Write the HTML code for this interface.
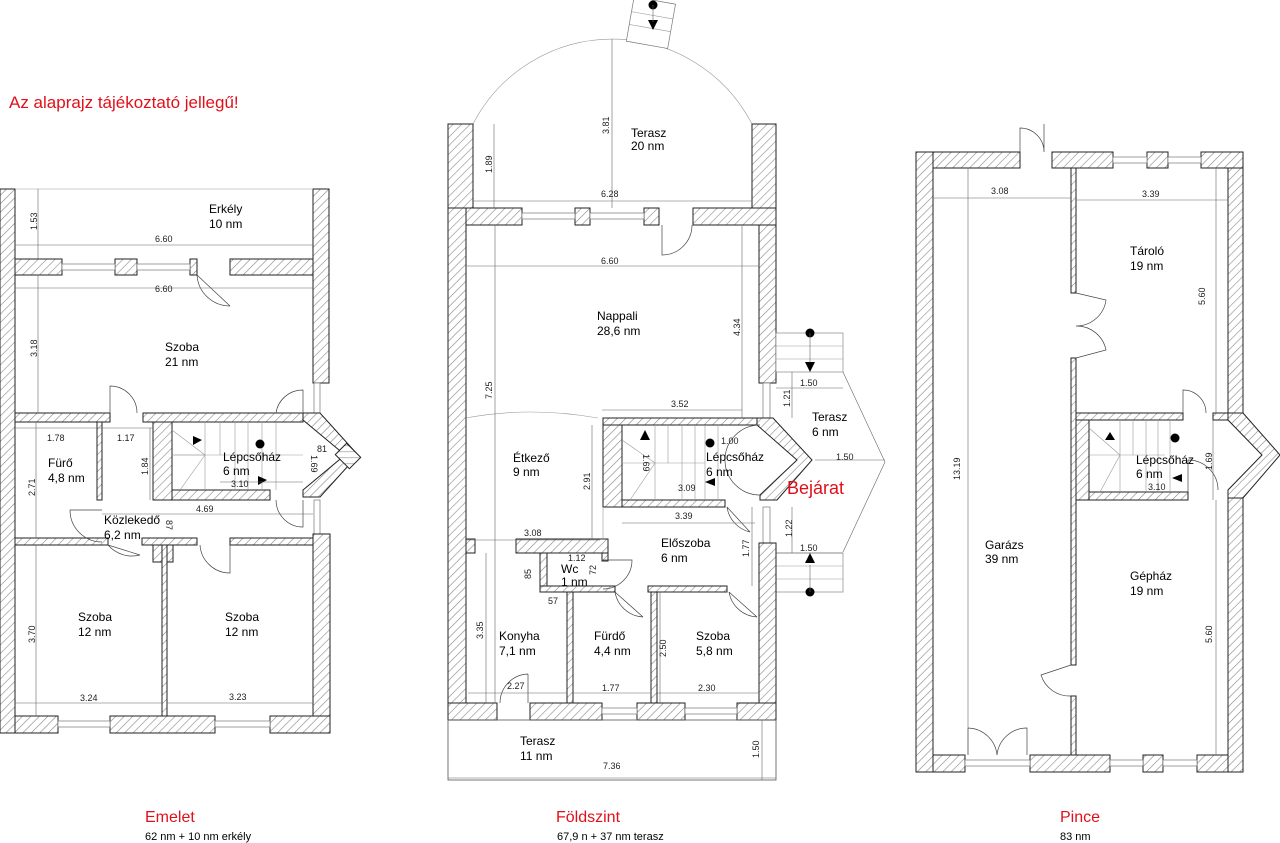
<!DOCTYPE html>
<html><head><meta charset="utf-8"><style>
html,body{margin:0;padding:0;background:#fff;}
svg{display:block;font-family:"Liberation Sans",Arial,sans-serif;}
.w{fill:url(#h);stroke:#222;stroke-width:1;}
.t{font-size:12px;fill:#000;}
.d{font-size:9px;fill:#222;}
.l{stroke:#666;stroke-width:0.6;fill:none;}
.g{stroke:#999;stroke-width:0.6;fill:none;}
.dr{stroke:#444;stroke-width:0.7;fill:none;}
.win{fill:#fff;stroke:#777;stroke-width:0.7;}
.r{fill:#e0101a;}
</style></head><body>
<svg width="1280" height="843" viewBox="0 0 1280 843" xmlns="http://www.w3.org/2000/svg">
<defs>
<pattern id="h" patternUnits="userSpaceOnUse" width="6" height="6" patternTransform="rotate(45)">
<rect width="6" height="6" fill="#fff"/><line x1="0" y1="0" x2="0" y2="6" stroke="#888" stroke-width="1.2"/>
</pattern>
</defs>

<text x="9" y="108" class="r" font-size="17">Az alaprajz tájékoztató jellegű!</text>

<!-- ============ EMELET ============ -->
<g>
<rect class="w" x="0" y="189" width="15" height="544"/>
<rect class="w" x="313" y="189" width="16" height="194"/>
<rect class="w" x="15" y="259" width="47" height="16"/>
<rect class="w" x="115" y="259" width="22" height="16"/>
<rect class="w" x="190" y="259" width="7" height="16"/>
<rect class="w" x="230" y="259" width="83" height="16"/>
<rect class="win" x="62" y="264" width="53" height="6"/>
<rect class="win" x="137" y="264" width="53" height="6"/>
<rect class="win" x="314" y="383" width="6" height="30"/>
<line class="g" x1="15" y1="189" x2="313" y2="189"/>
<!-- mid wall -->
<rect class="w" x="15" y="413" width="95" height="9"/>
<rect class="w" x="143" y="413" width="160" height="9"/>
<rect class="w" x="153" y="422" width="19" height="78"/>
<rect class="w" x="172" y="490" width="98" height="10"/>
<rect class="w" x="97" y="422" width="5" height="78"/>
<polygon class="w" points="303,413 320,413 358,455 320,497 303,497 303,490 345,455 303,420"/>
<rect class="w" x="338" y="448" width="20" height="16" transform="rotate(45 348 456)"/>
<!-- stairs -->
<g class="g"><line x1="172" y1="455" x2="303" y2="455"/>
<line x1="205" y1="422" x2="205" y2="490"/><line x1="220" y1="422" x2="220" y2="455"/><line x1="235" y1="422" x2="235" y2="490"/><line x1="248" y1="422" x2="248" y2="490"/><line x1="262" y1="422" x2="262" y2="490"/><line x1="276" y1="422" x2="276" y2="490"/>
<line x1="172" y1="430" x2="205" y2="455"/><line x1="180" y1="490" x2="205" y2="455"/><line x1="172" y1="455" x2="205" y2="455"/></g>
<circle cx="260" cy="444" r="4.5"/>
<polygon points="193,436 202,440 193,445"/>
<polygon points="258,476 267,480 258,485"/>
<rect class="win" x="314" y="500" width="6" height="34"/>
<rect class="w" x="15" y="538" width="93" height="7"/>
<rect class="w" x="142" y="538" width="55" height="7"/>
<rect class="w" x="153" y="545" width="20" height="17"/>
<rect class="w" x="230" y="538" width="83" height="7"/>
<rect class="w" x="313" y="534" width="17" height="199"/>
<rect class="w" x="162" y="545" width="5" height="171"/>
<rect class="w" x="15" y="716" width="43" height="17"/>
<rect class="w" x="110" y="716" width="105" height="17"/>
<rect class="w" x="270" y="716" width="60" height="17"/>
<rect class="win" x="58" y="721" width="52" height="6"/>
<rect class="win" x="215" y="721" width="55" height="6"/>
<!-- doors -->
<path class="dr" d="M197,275 L230,306 M197,275 A33,33 0 0 0 230,306"/>
<path class="dr" d="M110,413 L110,386 A27,27 0 0 1 137,413"/>
<path class="dr" d="M303,413 L303,390 A27,27 0 0 0 276,413"/>
<path class="dr" d="M303,500 L303,527 A27,27 0 0 1 276,500"/>
<path class="dr" d="M102,510 L70,510 A32,32 0 0 0 102,542"/>
<path class="dr" d="M108,545 L140,555 M108,545 A32,32 0 0 0 140,555"/>
<path class="dr" d="M230,545 L230,573 A30,30 0 0 1 200,545"/>
<!-- dims -->
<g class="l"><line x1="15" y1="245" x2="313" y2="245"/><line x1="15" y1="288" x2="313" y2="288"/>
<line x1="38" y1="189" x2="38" y2="259"/><line x1="38" y1="275" x2="38" y2="413"/>
<line x1="15" y1="428" x2="153" y2="428"/><line x1="36" y1="422" x2="36" y2="538"/>
<line x1="150" y1="428" x2="150" y2="500"/><line x1="102" y1="514" x2="313" y2="514"/>
<line x1="36" y1="545" x2="36" y2="716"/><line x1="15" y1="703" x2="162" y2="703"/><line x1="167" y1="703" x2="313" y2="703"/>
<line x1="220" y1="482" x2="303" y2="482"/></g>
</g>
<text class="t" x="209" y="213">Erkély</text><text class="t" x="209" y="228">10 nm</text>
<text class="t" x="165" y="351">Szoba</text><text class="t" x="165" y="366">21 nm</text>
<text class="t" x="48" y="467">Fürő</text><text class="t" x="48" y="482">4,8 nm</text>
<text class="t" x="223" y="461">Lépcsőház</text><text class="t" x="223" y="475">6 nm</text>
<text class="t" x="104" y="524">Közlekedő</text><text class="t" x="104" y="539">6,2 nm</text>
<text class="t" x="78" y="621">Szoba</text><text class="t" x="78" y="636">12 nm</text>
<text class="t" x="225" y="621">Szoba</text><text class="t" x="225" y="636">12 nm</text>
<g class="d">
<text transform="translate(37,230) rotate(-90)">1.53</text>
<text x="155" y="242">6.60</text><text x="155" y="292">6.60</text>
<text transform="translate(37,357) rotate(-90)">3.18</text>
<text x="47" y="441">1.78</text><text x="117" y="441">1.17</text>
<text transform="translate(148,475) rotate(-90)">1.84</text>
<text transform="translate(35,496) rotate(-90)">2.71</text>
<text x="231" y="487">3.10</text>
<text transform="translate(311,455) rotate(90)">1.69</text><text x="317" y="452">81</text>
<text transform="translate(166,520) rotate(90)">87</text>
<text x="196" y="512">4.69</text>
<text transform="translate(35,643) rotate(-90)">3.70</text>
<text x="80" y="701">3.24</text><text x="229" y="700">3.23</text>
</g>
<text x="145" y="822" class="r" font-size="16">Emelet</text>
<text x="145" y="840" font-size="11">62 nm + 10 nm erkély</text>

<!-- ============ FÖLDSZINT ============ -->
<g>
<path class="g" d="M473,124 A157,157 0 0 1 752,124" stroke="#777"/>
<g transform="rotate(10 650 22)"><rect x="630" y="0" width="42" height="45" fill="#fff" stroke="#777" stroke-width="0.7"/>
<line class="g" x1="630" y1="15" x2="672" y2="15"/><line class="g" x1="630" y1="28" x2="672" y2="28"/></g>
<circle cx="653" cy="5" r="4.5"/><polygon points="648,20 658,20 653,30"/><line class="l" x1="653" y1="5" x2="653" y2="22"/>
<rect class="w" x="448" y="124" width="25" height="84"/>
<rect class="w" x="752" y="124" width="24" height="84"/>
<rect class="w" x="448" y="208" width="18" height="512"/>
<rect class="w" x="466" y="208" width="56" height="17"/>
<rect class="w" x="575" y="208" width="15" height="17"/>
<rect class="w" x="644" y="208" width="15" height="17"/>
<rect class="w" x="693" y="208" width="83" height="17"/>
<rect class="win" x="522" y="213" width="53" height="6"/>
<rect class="win" x="590" y="213" width="54" height="6"/>
<path class="dr" d="M662,225 L662,255 A30,30 0 0 0 692,225"/>
<rect class="w" x="759" y="225" width="17" height="158"/>
<rect class="win" x="763" y="383" width="7" height="35"/>
<!-- right steps top -->
<rect x="776" y="333" width="67" height="39" fill="#fff" stroke="#888" stroke-width="0.7"/>
<line class="g" x1="776" y1="346" x2="843" y2="346"/><line class="g" x1="776" y1="359" x2="843" y2="359"/>
<circle cx="810" cy="333" r="4.5"/><line class="l" x1="810" y1="333" x2="810" y2="362"/><polygon points="805,362 815,362 810,372"/>
<polyline class="l" points="843,372 885,462 843,552"/>
<!-- bottom steps -->
<rect x="776" y="553" width="67" height="39" fill="#fff" stroke="#888" stroke-width="0.7"/>
<line class="g" x1="776" y1="566" x2="843" y2="566"/><line class="g" x1="776" y1="579" x2="843" y2="579"/>
<circle cx="810" cy="592" r="4.5"/><line class="l" x1="810" y1="565" x2="810" y2="592"/><polygon points="805,563 815,563 810,553"/>
<!-- etkezo arc -->
<path class="g" d="M466,418 Q530,406 598,418" stroke="#777"/>
<!-- stair box -->
<rect class="w" x="603" y="418" width="157" height="7"/>
<rect class="w" x="603" y="425" width="19" height="82"/>
<rect class="w" x="622" y="500" width="103" height="7"/>
<polygon class="w" points="757,418 773,418 812,460 777,500 760,500 760,495 797,460 757,425"/>
<g class="g"><line x1="622" y1="463" x2="705" y2="463"/>
<line x1="655" y1="425" x2="655" y2="500"/><line x1="668" y1="425" x2="668" y2="463"/><line x1="682" y1="425" x2="682" y2="500"/><line x1="695" y1="425" x2="695" y2="500"/><line x1="705" y1="425" x2="705" y2="500"/><line x1="718" y1="425" x2="718" y2="500"/>
<line x1="622" y1="440" x2="655" y2="463"/><line x1="630" y1="500" x2="655" y2="463"/></g>
<circle cx="710" cy="443" r="4.5"/>
<polygon points="640,440 645,430 650,440"/>
<polygon points="705,482 715,478 715,486"/>
<path class="dr" d="M760,425 A35,35 0 0 0 760,495"/>
<rect class="win" x="763" y="507" width="7" height="36"/>
<rect class="w" x="759" y="543" width="17" height="177"/>
<path class="dr" d="M727,507 L750,532 M727,507 A30,30 0 0 0 750,532"/>
<!-- lower interior -->
<rect class="w" x="466" y="539" width="9" height="14"/>
<rect class="w" x="516" y="539" width="92" height="14"/>
<rect class="w" x="540" y="553" width="7" height="39"/>
<rect class="w" x="540" y="586" width="75" height="6"/>
<rect class="w" x="602" y="553" width="6" height="8"/>
<rect class="w" x="648" y="586" width="79" height="6"/>
<rect class="w" x="567" y="592" width="6" height="111"/>
<rect class="w" x="651" y="592" width="6" height="111"/>
<line class="g" x1="603" y1="507" x2="603" y2="539"/>
<path class="dr" d="M603,560 L632,560 A29,29 0 0 1 603,589"/>
<path class="dr" d="M615,592 L643,617 M615,592 A30,30 0 0 0 643,617"/>
<path class="dr" d="M729,592 L757,617 M729,592 A30,30 0 0 0 757,617"/>
<path class="dr" d="M528,674 L528,703 M500,703 A29,29 0 0 1 528,674"/>
<rect class="w" x="448" y="703" width="49" height="17"/>
<rect class="w" x="530" y="703" width="72" height="17"/>
<rect class="w" x="637" y="703" width="48" height="17"/>
<rect class="w" x="737" y="703" width="39" height="17"/>
<rect class="win" x="602" y="708" width="35" height="6"/>
<rect class="win" x="685" y="708" width="52" height="6"/>
<rect x="448" y="720" width="328" height="60" fill="none" stroke="#555" stroke-width="0.8"/>
<!-- dims -->
<g class="l"><line x1="612" y1="39" x2="612" y2="208"/><line x1="494" y1="124" x2="494" y2="208"/>
<line x1="473" y1="201" x2="752" y2="201"/><line x1="466" y1="266" x2="759" y2="266"/>
<line x1="742" y1="225" x2="742" y2="418"/><line x1="495" y1="225" x2="495" y2="703"/>
<line x1="602" y1="410" x2="742" y2="410"/><line x1="622" y1="523" x2="755" y2="523"/>
<line x1="466" y1="540" x2="600" y2="540"/><line x1="592" y1="425" x2="592" y2="539"/>
<line x1="776" y1="388" x2="843" y2="388"/><line x1="792" y1="372" x2="792" y2="418"/>
<line x1="815" y1="460" x2="885" y2="460"/><line x1="792" y1="507" x2="792" y2="553"/>
<line x1="776" y1="553" x2="843" y2="553"/><line x1="752" y1="507" x2="752" y2="586"/>
<line x1="468" y1="693" x2="567" y2="693"/><line x1="573" y1="693" x2="651" y2="693"/><line x1="657" y1="693" x2="759" y2="693"/>
<line x1="448" y1="778" x2="776" y2="778"/><line x1="762" y1="720" x2="762" y2="780"/>
<line x1="486" y1="553" x2="486" y2="703"/><line x1="660" y1="592" x2="660" y2="703"/></g>
</g>
<text class="t" x="631" y="137">Terasz</text><text class="t" x="631" y="150">20 nm</text>
<text class="t" x="597" y="320">Nappali</text><text class="t" x="597" y="335">28,6 nm</text>
<text class="t" x="513" y="462">Étkező</text><text class="t" x="513" y="476">9 nm</text>
<text class="t" x="706" y="461">Lépcsőház</text><text class="t" x="706" y="476">6 nm</text>
<text class="t" x="812" y="421">Terasz</text><text class="t" x="812" y="436">6 nm</text>
<text class="t" x="661" y="547">Előszoba</text><text class="t" x="661" y="562">6 nm</text>
<text class="t" x="561" y="573">Wc</text><text class="t" x="561" y="586">1 nm</text>
<text class="t" x="499" y="640">Konyha</text><text class="t" x="499" y="655">7,1 nm</text>
<text class="t" x="594" y="640">Fürdő</text><text class="t" x="594" y="655">4,4 nm</text>
<text class="t" x="696" y="640">Szoba</text><text class="t" x="696" y="655">5,8 nm</text>
<text class="t" x="520" y="745">Terasz</text><text class="t" x="520" y="760">11 nm</text>
<text x="787" y="494" class="r" font-size="18">Bejárat</text>
<g class="d">
<text transform="translate(609,134) rotate(-90)">3.81</text>
<text transform="translate(492,173) rotate(-90)">1.89</text>
<text x="601" y="197">6.28</text><text x="601" y="264">6.60</text>
<text transform="translate(740,336) rotate(-90)">4.34</text>
<text transform="translate(492,399) rotate(-90)">7.25</text>
<text x="671" y="407">3.52</text><text x="800" y="386">1.50</text>
<text transform="translate(790,407) rotate(-90)">1.21</text>
<text x="721" y="444">1.00</text><text x="836" y="460">1.50</text>
<text transform="translate(643,454) rotate(90)">1.69</text>
<text x="678" y="491">3.09</text>
<text transform="translate(590,490) rotate(-90)">2.91</text>
<text x="675" y="519">3.39</text><text x="524" y="536">3.08</text>
<text transform="translate(792,537) rotate(-90)">1.22</text>
<text transform="translate(749,557) rotate(-90)">1.77</text>
<text x="800" y="551">1.50</text><text x="568" y="561">1.12</text>
<text transform="translate(531,579) rotate(-90)">85</text>
<text transform="translate(596,575) rotate(-90)">72</text>
<text x="548" y="604">57</text>
<text transform="translate(483,639) rotate(-90)">3.35</text>
<text transform="translate(666,657) rotate(-90)">2.50</text>
<text x="507" y="689">2.27</text><text x="602" y="691">1.77</text><text x="698" y="691">2.30</text>
<text transform="translate(759,758) rotate(-90)">1.50</text>
<text x="603" y="769">7.36</text>
</g>
<text x="556" y="822" class="r" font-size="16">Földszint</text>
<text x="557" y="840" font-size="11">67,9 n + 37 nm terasz</text>

<!-- ============ PINCE ============ -->
<g>
<rect class="w" x="916" y="152" width="17" height="620"/>
<rect class="w" x="933" y="152" width="87" height="16"/>
<rect class="w" x="1052" y="152" width="61" height="16"/>
<rect class="w" x="1147" y="152" width="21" height="16"/>
<rect class="w" x="1201" y="152" width="42" height="16"/>
<rect class="win" x="1113" y="157" width="34" height="6"/>
<rect class="win" x="1168" y="157" width="33" height="6"/>
<path class="dr" d="M1020,152 L1020,128 A24,24 0 0 1 1044,152 M1044,124 L1044,152"/>
<rect class="w" x="1228" y="168" width="15" height="245"/>
<rect class="w" x="1071" y="168" width="5" height="125"/>
<rect class="w" x="1071" y="358" width="5" height="307"/>
<rect class="w" x="1071" y="696" width="5" height="59"/>
<path class="dr" d="M1076,293 L1106,300 A30,30 0 0 1 1076,326 M1076,358 L1106,350 A30,30 0 0 0 1076,326"/>
<path class="dr" d="M1071,665 L1041,675 A30,30 0 0 0 1071,696"/>
<rect class="w" x="1076" y="413" width="107" height="7"/>
<rect class="w" x="1213" y="413" width="15" height="7"/>
<rect class="w" x="1076" y="420" width="13" height="80"/>
<rect class="w" x="1089" y="492" width="99" height="8"/>
<polygon class="w" points="1228,413 1243,413 1280,455 1243,498 1228,498 1228,490 1262,455 1228,420"/>
<path class="dr" d="M1183,413 L1183,390 A23,23 0 0 1 1206,413"/>
<path class="dr" d="M1188,460 L1188,492 M1188,460 A30,30 0 0 1 1218,490"/>
<g class="g"><line x1="1089" y1="455" x2="1165" y2="455"/>
<line x1="1120" y1="420" x2="1120" y2="492"/><line x1="1133" y1="420" x2="1133" y2="455"/><line x1="1146" y1="420" x2="1146" y2="492"/><line x1="1158" y1="420" x2="1158" y2="492"/><line x1="1170" y1="420" x2="1170" y2="492"/>
<line x1="1089" y1="428" x2="1120" y2="455"/><line x1="1100" y1="492" x2="1120" y2="455"/></g>
<circle cx="1175" cy="438" r="4.5"/>
<polygon points="1105,440 1110,432 1115,440"/>
<polygon points="1172,478 1182,474 1182,482"/>
<rect class="w" x="1228" y="498" width="15" height="274"/>
<rect class="w" x="933" y="755" width="32" height="17"/>
<rect class="w" x="1030" y="755" width="80" height="17"/>
<rect class="w" x="1143" y="755" width="20" height="17"/>
<rect class="w" x="1197" y="755" width="31" height="17"/>
<rect class="win" x="1110" y="760" width="33" height="6"/>
<rect class="win" x="1163" y="760" width="34" height="6"/>
<rect class="win" x="965" y="760" width="65" height="6"/>
<path class="dr" d="M968,755 L968,728 A30,30 0 0 1 997,755 M1027,755 L1027,728 A30,30 0 0 0 997,755"/>
<g class="l"><line x1="968" y1="168" x2="968" y2="755"/><line x1="933" y1="198" x2="1071" y2="198"/><line x1="1076" y1="200" x2="1228" y2="200"/>
<line x1="1216" y1="168" x2="1216" y2="413"/><line x1="1216" y1="500" x2="1216" y2="755"/><line x1="1213" y1="420" x2="1213" y2="500"/></g>
</g>
<text class="t" x="985" y="549">Garázs</text><text class="t" x="985" y="563">39 nm</text>
<text class="t" x="1130" y="255">Tároló</text><text class="t" x="1130" y="270">19 nm</text>
<text class="t" x="1136" y="464">Lépcsőház</text><text class="t" x="1136" y="478">6 nm</text>
<text class="t" x="1130" y="580">Gépház</text><text class="t" x="1130" y="595">19 nm</text>
<g class="d">
<text x="991" y="194">3.08</text><text x="1142" y="197">3.39</text>
<text transform="translate(960,480) rotate(-90)">13.19</text>
<text transform="translate(1205,305) rotate(-90)">5.60</text>
<text transform="translate(1212,643) rotate(-90)">5.60</text>
<text transform="translate(1212,470) rotate(-90)">1.69</text>
<text x="1148" y="490">3.10</text>
</g>
<text x="1060" y="822" class="r" font-size="16">Pince</text>
<text x="1060" y="840" font-size="11">83 nm</text>
</svg>
</body></html>
